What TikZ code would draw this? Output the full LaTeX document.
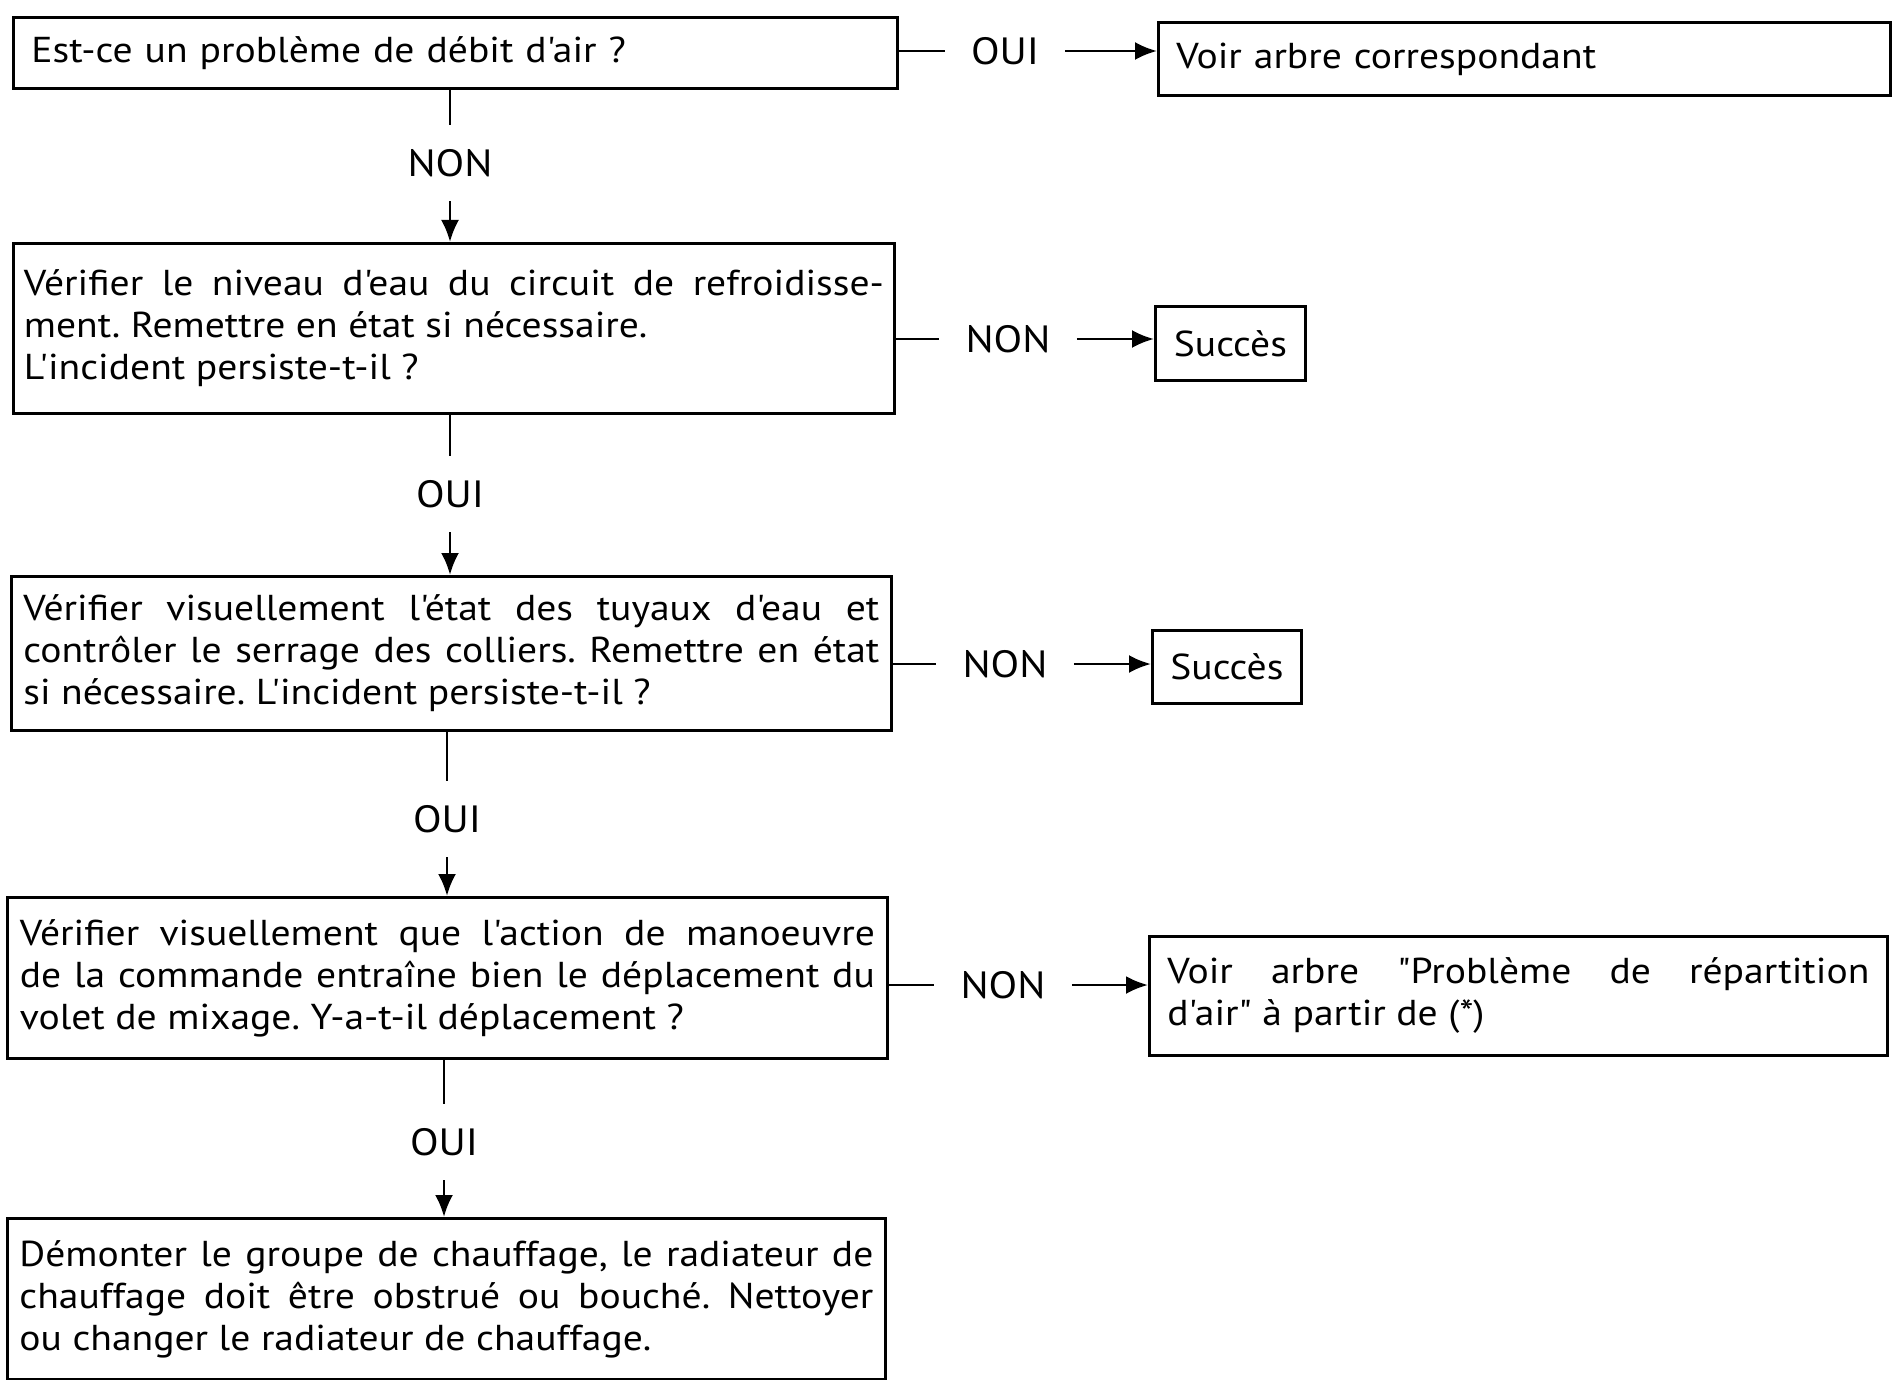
\documentclass[tikz,border=0pt]{standalone}
\usepackage{fontspec}
\setmainfont{PT Sans}[FakeStretch=1.1,Ligatures=TeXOff]
\usetikzlibrary{arrows.meta}
\tolerance=9999
\hyphenpenalty=10000
\hbadness=10000
\frenchspacing
\begin{document}
\begin{tikzpicture}[x=0.5pt,y=-0.5pt,
  tx/.style={font=\fontsize{18}{21}\selectfont},
  box/.style={draw, line width=1.4pt, inner ysep=0pt, anchor=north west, tx},
  lbl/.style={inner xsep=13pt, inner ysep=12pt, font=\fontsize{19}{21}\selectfont},
  conn/.style={line width=1.4pt},
  arr/.style={conn, -{Latex[length=11pt,width=9pt]}}
]
\useasboundingbox (0,0) rectangle (1899,1380);

% main column
\node[box, inner xsep=9pt, text width=424pt, minimum height=35.5pt, align=left] (b1) at (12,16)
  {Est-ce un problème de débit d'air ?};
\node[box, inner xsep=5.25pt, text width=430pt, minimum height=85pt, align=justify] (b2) at (12,242)
  {Vérifier le niveau d'eau du circuit de refroidisse-\linebreak ment. Remettre en état si nécessaire.\newline L'incident persiste-t-il ?};
\node[box, inner xsep=6pt, text width=428pt, minimum height=77pt, align=justify] (b3) at (10,575)
  {Vérifier visuellement l'état des tuyaux d'eau et\linebreak contrôler le serrage des colliers. Remettre en état\linebreak si nécessaire. L'incident persiste-t-il ?};
\node[box, inner xsep=6.25pt, text width=427.5pt, minimum height=80.5pt, align=justify] (b4) at (6,896)
  {Vérifier visuellement que l'action de manoeuvre\linebreak de la commande entraîne bien le déplacement du\linebreak volet de mixage. Y-a-t-il déplacement ?};
\node[box, inner xsep=6pt, text width=427pt, minimum height=80.5pt, align=justify] (b5) at (6,1217)
  {Démonter le groupe de chauffage, le radiateur de\linebreak chauffage doit être obstrué ou bouché. Nettoyer\linebreak ou changer le radiateur de chauffage.};

% right column
\node[box, inner xsep=9pt, text width=348pt, minimum height=36.5pt, align=left] (v1) at (1157,21)
  {Voir arbre correspondant};
\node[box, minimum width=75pt, minimum height=37pt] (s1) at (1154,305) {Succès};
\node[box, minimum width=74.5pt, minimum height=36.5pt] (s2) at (1151,629) {Succès};
\node[box, inner xsep=9pt, text width=351pt, minimum height=59.5pt, align=justify] (v2) at (1148,935)
  {Voir arbre "Problème de répartition\linebreak d'air" à partir de (*)};

% vertical labels
\node[lbl] (l1) at (450,163) {NON};
\node[lbl] (l2) at (450,494) {OUI};
\node[lbl] (l3) at (447,819) {OUI};
\node[lbl] (l4) at (444,1142) {OUI};

% horizontal labels
\node[lbl] (h1) at (1005,51) {OUI};
\node[lbl] (h2) at (1008,339) {NON};
\node[lbl] (h3) at (1005,664) {NON};
\node[lbl] (h4) at (1003,985) {NON};

% vertical connectors
\draw[conn] (l1.north |- b1.south) -- (l1.north);
\draw[arr] (l1.south) -- (l1.south |- b2.north);
\draw[conn] (l2.north |- b2.south) -- (l2.north);
\draw[arr] (l2.south) -- (l2.south |- b3.north);
\draw[conn] (l3.north |- b3.south) -- (l3.north);
\draw[arr] (l3.south) -- (l3.south |- b4.north);
\draw[conn] (l4.north |- b4.south) -- (l4.north);
\draw[arr] (l4.south) -- (l4.south |- b5.north);

% horizontal connectors
\draw[conn] (h1.west -| b1.east) -- (h1.west);
\draw[arr] (h1.east) -- (h1.east -| v1.west);
\draw[conn] (h2.west -| b2.east) -- (h2.west);
\draw[arr] (h2.east) -- (h2.east -| s1.west);
\draw[conn] (h3.west -| b3.east) -- (h3.west);
\draw[arr] (h3.east) -- (h3.east -| s2.west);
\draw[conn] (h4.west -| b4.east) -- (h4.west);
\draw[arr] (h4.east) -- (h4.east -| v2.west);
\end{tikzpicture}
\end{document}
